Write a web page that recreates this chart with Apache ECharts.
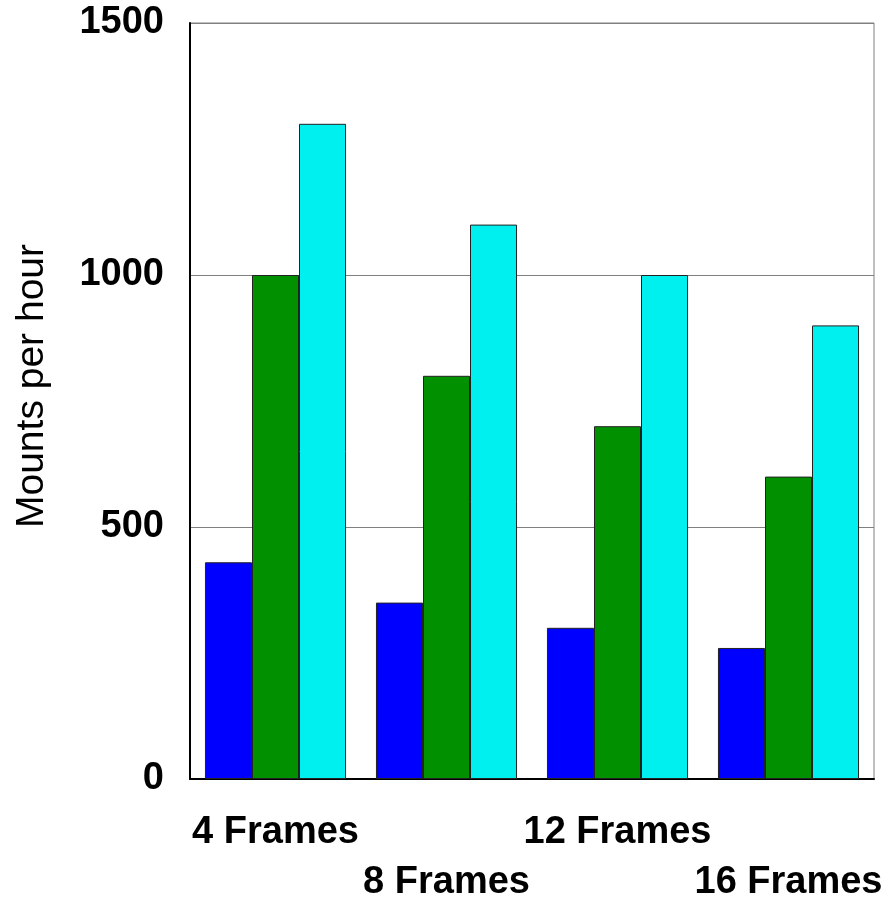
<!DOCTYPE html>
<html>
<head>
<meta charset="utf-8">
<script src="https://cdn.jsdelivr.net/npm/echarts@6/dist/echarts.min.js"></script>
<style>html,body{margin:0;padding:0;background:#fff;}#c{width:891px;height:899px;}</style>
</head>
<body>
<div id="c"></div>
<script>
const categories = ['4 Frames', '8 Frames', '12 Frames', '16 Frames'];
const seriesA = [430, 350, 300, 260];
const seriesB = [1000, 800, 700, 600];
const seriesC = [1300, 1100, 1000, 900];
const yTicks = [0, 500, 1000, 1500];

const chart = echarts.init(document.getElementById('c'));
const font = '"Liberation Sans", Arial, sans-serif';
function bar(data, color) {
  return {
    type: 'bar', data: data, barGap: 0, barCategoryGap: '17.5%',
    itemStyle: { color: color, borderColor: '#222', borderWidth: 1 },
    animation: false
  };
}
chart.setOption({
  animation: false,
  grid: { left: 190, right: 17, top: 23, bottom: 120, show: true, borderColor: '#808080', borderWidth: 1,
          containLabel: false, outerBoundsMode: 'none' },
  xAxis: {
    type: 'category', data: categories,
    axisLine: { lineStyle: { color: '#000', width: 2 } },
    axisTick: { show: false },
    axisLabel: {
      interval: 0, margin: 29, color: '#000', fontFamily: font, fontWeight: 'bold', fontSize: 38, lineHeight: 50,
      hideOverlap: false,
      formatter: function (v, i) { return i % 2 ? '\n' + v : v; }
    }
  },
  yAxis: {
    type: 'value', min: yTicks[0], max: yTicks[yTicks.length - 1], interval: 500,
    name: 'Mounts per hour', nameLocation: 'middle', nameGap: 138,
    nameTextStyle: { color: '#000', fontFamily: font, fontSize: 39, padding: [0, 0, 0, 30] },
    axisLine: { show: true, lineStyle: { color: '#000', width: 2 } },
    axisTick: { show: false },
    splitLine: { lineStyle: { color: '#808080', width: 1 } },
    axisLabel: { margin: 26, color: '#000', fontFamily: font, fontWeight: 'bold', fontSize: 38,
                 formatter: function (v) { return String(v); } }
  },
  series: [bar(seriesA, '#0000ff'), bar(seriesB, '#009000'), bar(seriesC, '#00f0f0')]
});
</script>
</body>
</html>
